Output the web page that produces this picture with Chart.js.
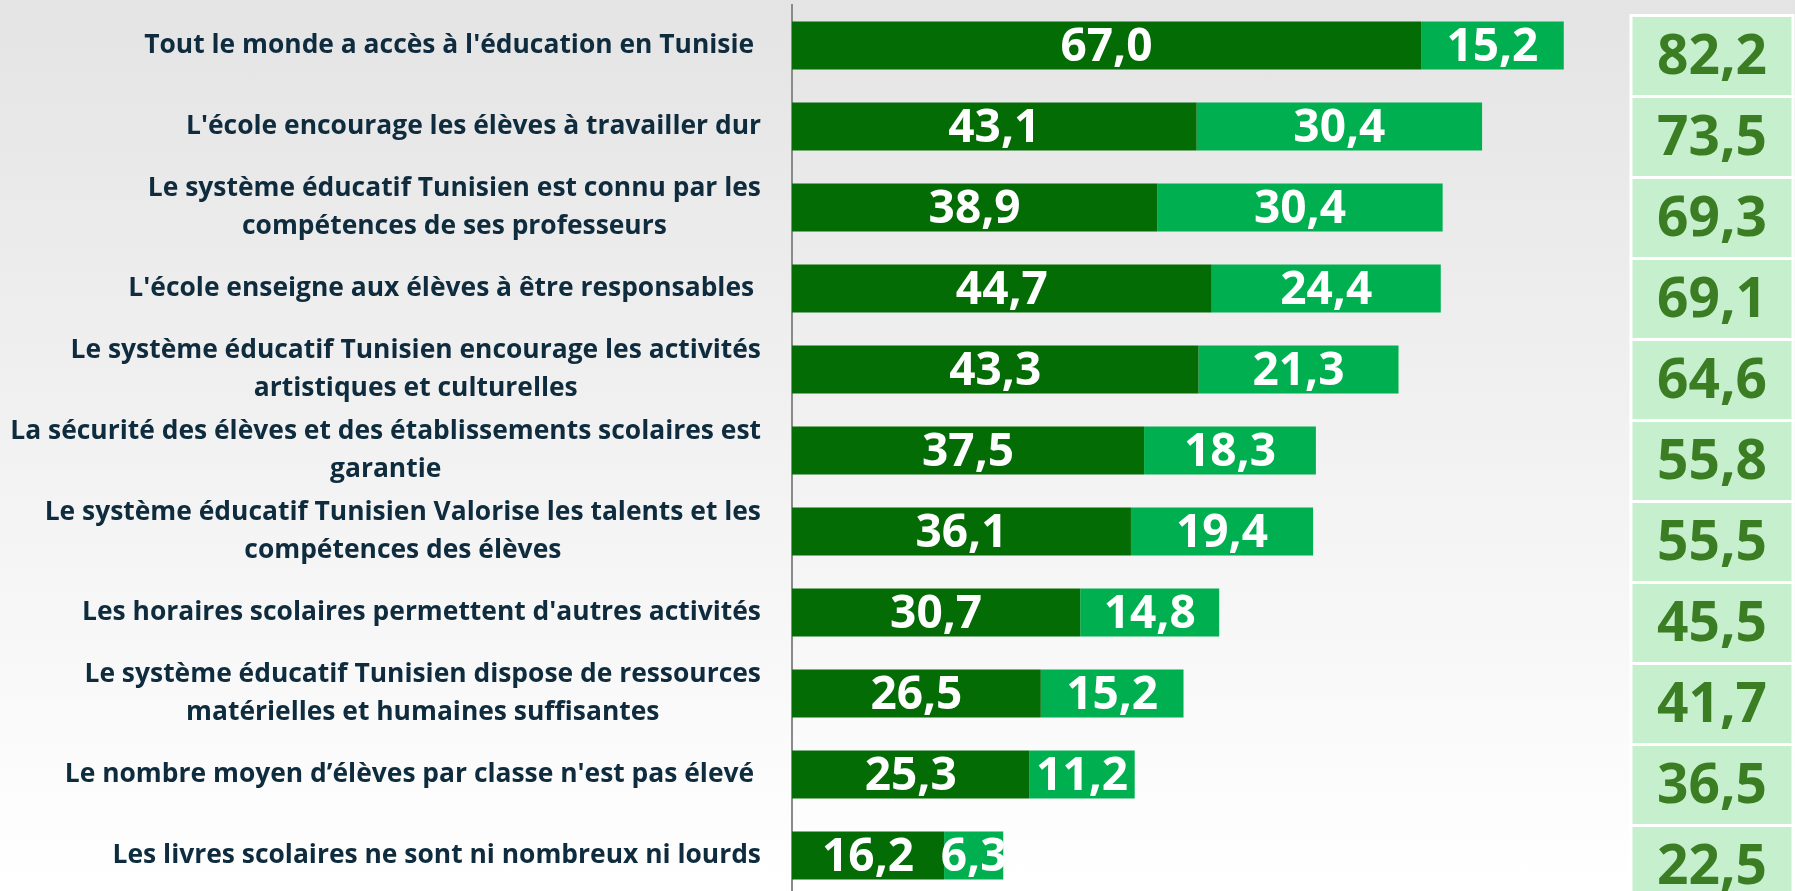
<!DOCTYPE html>
<html lang="fr">
<head>
<meta charset="UTF-8">
<title>Perception du système éducatif tunisien</title>
<script src="https://cdn.jsdelivr.net/npm/chart.js"></script>
<style>
    html, body { margin: 0; padding: 0; overflow: hidden; }
    body {
        width: 1795px;
        height: 891px;
        background: linear-gradient(to bottom, #e4e4e4 0%, #f3f3f3 55%, #ffffff 100%);
    }
    #wrap { position: relative; width: 1795px; height: 900px; }
</style>
</head>
<body>
<div id="wrap"><canvas id="chart"></canvas></div>
<script>
// categories, top to bottom
const categories = [
    "Tout le monde a accès à l'éducation en Tunisie ",
    "L'école encourage les élèves à travailler dur",
    ["Le système éducatif Tunisien est connu par les", "compétences de ses professeurs"],
    "L'école enseigne aux élèves à être responsables ",
    ["Le système éducatif Tunisien encourage les activités", "artistiques et culturelles"],
    ["La sécurité des élèves et des établissements scolaires est", "garantie"],
    ["Le système éducatif Tunisien Valorise les talents et les", "compétences des élèves"],
    "Les horaires scolaires permettent d'autres activités",
    ["Le système éducatif Tunisien dispose de ressources", "matérielles et humaines suffisantes"],
    "Le nombre moyen d’élèves par classe n'est pas élevé ",
    "Les livres scolaires ne sont ni nombreux ni lourds"
];
const darkValues  = [67.0, 43.1, 38.9, 44.7, 43.3, 37.5, 36.1, 30.7, 26.5, 25.3, 16.2];
const lightValues = [15.2, 30.4, 30.4, 24.4, 21.3, 18.3, 19.4, 14.8, 15.2, 11.2, 6.3];
const totals      = [82.2, 73.5, 69.3, 69.1, 64.6, 55.8, 55.5, 45.5, 41.7, 36.5, 22.5];

const fmt = v => v.toFixed(1).replace('.', ',');

// white numbers inside each segment
const barLabels = {
    id: 'barLabels',
    afterDatasetsDraw(chart) {
        const ctx = chart.ctx;
        ctx.save();
        ctx.font = 'bold 46px "Open Sans"';
        ctx.fillStyle = '#ffffff';
        ctx.textAlign = 'center';
        ctx.textBaseline = 'middle';
        chart.data.datasets.forEach((ds, di) => {
            chart.getDatasetMeta(di).data.forEach((bar, i) => {
                const p = bar.getCenterPoint();
                ctx.fillText(fmt(ds.data[i]), p.x, p.y + 2);
            });
        });
        ctx.restore();
    }
};

// category labels: block right aligned, lines centred in the block
const categoryLabels = {
    id: 'categoryLabels',
    afterDraw(chart) {
        const ctx = chart.ctx;
        const y = chart.scales.y;
        const right = 761;
        ctx.save();
        ctx.font = 'bold 100px "Open Sans"';
        const ref = ctx.measureText(categories[5][0]).width;
        const size = 100 * 751 / ref;
        ctx.font = 'bold ' + size.toFixed(2) + 'px "Open Sans"';
        ctx.fillStyle = '#0e2c3e';
        ctx.textAlign = 'center';
        ctx.textBaseline = 'middle';
        const lh = 38;
        categories.forEach((c, i) => {
            const lines = Array.isArray(c) ? c : [c];
            const w = Math.max(...lines.map(l => ctx.measureText(l).width));
            const cx = right - w / 2;
            const cy = y.getPixelForValue(i);
            lines.forEach((l, k) => {
                ctx.fillText(l, cx, cy + (k - (lines.length - 1) / 2) * lh);
            });
        });
        ctx.restore();
    }
};

// total boxes on the right
const totalBoxes = {
    id: 'totalBoxes',
    afterDraw(chart) {
        const ctx = chart.ctx;
        const y = chart.scales.y;
        ctx.save();
        ctx.textAlign = 'center';
        ctx.textBaseline = 'middle';
        totals.forEach((t, i) => {
            const c = y.getPixelForValue(i) + 10.5;
            ctx.fillStyle = '#c6efce';
            ctx.fillRect(1631, c - 40.5, 162, 81);
            ctx.strokeStyle = '#ffffff';
            ctx.lineWidth = 3;
            ctx.strokeRect(1631, c - 40.5, 162, 81);
            ctx.fillStyle = '#3b7d23';
            ctx.font = 'bold 55px "Open Sans"';
            ctx.fillText(fmt(t), 1712, c + 2);
        });
        ctx.restore();
    }
};

new Chart(document.getElementById('chart'), {
    type: 'bar',
    data: {
        labels: categories,
        datasets: [{
            label: 'Tout à fait d\'accord',
            data: darkValues,
            backgroundColor: '#036c05'
        }, {
            label: 'Plutôt d\'accord',
            data: lightValues,
            backgroundColor: '#00b050'
        }]
    },
    options: {
        indexAxis: 'y',
        responsive: true,
        maintainAspectRatio: false,
        animation: false,
        layout: { padding: { left: 792, right: 158, top: 5, bottom: 4 } },
        datasets: { bar: { barPercentage: 0.595, categoryPercentage: 1 } },
        scales: {
            x: { stacked: true, min: 0, max: 90, display: false },
            y: {
                stacked: true,
                ticks: { display: false },
                grid: { display: false, drawTicks: false },
                border: { display: true, color: '#8a8a8a', width: 2 }
            }
        },
        plugins: {
            legend: { display: false },
            tooltip: { enabled: false }
        }
    },
    plugins: [barLabels, categoryLabels, totalBoxes]
});
</script>
</body>
</html>
